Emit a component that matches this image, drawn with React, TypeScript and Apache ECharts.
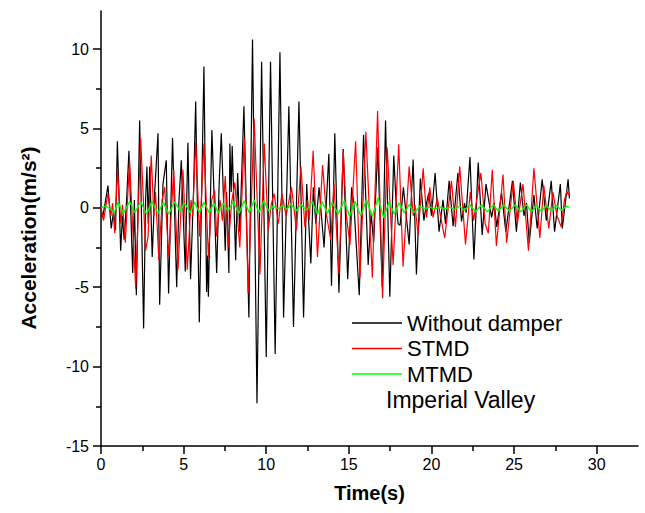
import React, { useEffect, useRef } from "react";
import * as echarts from "echarts";

const seriesNames = ["Without damper", "STMD", "MTMD"];
const xMajorTicks = [0, 5, 10, 15, 20, 25, 30];
const xMinorTicks = [2.5, 7.5, 12.5, 17.5, 22.5, 27.5];
const yMajorTicks = [-15, -10, -5, 0, 5, 10];
const yMinorTicks = [-12.5, -7.5, -2.5, 2.5, 7.5];

// [time (s), acceleration (m/s^2)]
const withoutDamper: [number, number][] = [
  [0, 0], [0.1, -0.6], [0.25, 0.3], [0.42, 1.4], [0.62, -1.3], [0.76, -0.2], [0.88, -1.4], [0.99, 4.2],
  [1.19, -2.7], [1.3, -0.5], [1.4, -2.0], [1.55, 0.5], [1.69, 3.6], [1.84, -1.5], [1.92, -4.1], [2.02, 0.5],
  [2.14, -5.5], [2.34, 5.5], [2.58, -7.6], [2.7, 0.5], [2.78, 2.6], [2.86, -1.0], [2.95, 2.6], [3.1, -3.1],
  [3.25, 1.0], [3.45, 4.7], [3.55, -6.1], [3.75, 1.5], [3.95, 3.0], [4.09, -5.4], [4.33, 4.4], [4.58, -5.0],
  [4.72, 0.5], [4.86, 3.0], [5.1, -4.0], [5.26, 4.1], [5.42, -4.5], [5.6, 1.0], [5.73, 6.7], [5.95, -7.2],
  [6.23, 8.9], [6.39, -5.3], [6.45, -3.0], [6.5, -5.6], [6.71, 4.9], [7.0, -4.1], [7.15, 1.5], [7.28, 4.7],
  [7.52, -2.7], [7.6, 1.0], [7.74, -4.1], [7.8, 4.05], [7.88, 1.0], [7.94, 3.9], [8.15, -3.3], [8.27, 2.2],
  [8.4, -1.5], [8.65, 6.4], [8.95, -6.9], [9.17, 10.6], [9.44, -12.3], [9.72, 9.2], [10.0, -9.4], [10.26, 9.2],
  [10.54, -9.2], [10.83, 9.8], [11.05, -6.9], [11.37, 6.4], [11.65, -7.5], [11.98, 6.7], [12.26, -6.9], [12.45, 1.5],
  [12.55, -0.5], [12.7, -3.5], [12.85, 1.3], [13.0, -1.0], [13.2, 1.3], [13.5, -2.5], [13.79, 3.4], [13.95, -4.9],
  [14.15, 4.7], [14.4, -5.35], [14.66, 3.7], [14.93, -4.5], [15.17, 1.3], [15.3, 0.3], [15.63, -5.5], [15.89, 4.6],
  [16.17, -3.6], [16.35, -0.3], [16.5, -2.2], [16.75, 3.8], [17.02, -5.0], [17.22, 5.5], [17.48, -5.6], [17.72, 3.3],
  [17.85, 0.5], [17.98, -1.0], [18.1, -1.1], [18.3, 1.3], [18.65, -2.3], [18.89, 3.05], [19.09, -4.2], [19.33, 1.85],
  [19.54, -0.8], [19.7, 0.3], [19.84, 0.95], [20.0, -0.5], [20.22, 2.2], [20.46, -1.5], [20.7, 0.5], [20.85, -1.0],
  [21.07, 1.7], [21.31, -1.15], [21.6, 2.2], [21.82, -0.85], [22.0, 0.3], [22.1, -0.3], [22.33, 3.2], [22.57, -3.25],
  [22.83, 2.85], [23.07, -1.7], [23.3, 1.5], [23.64, -0.6], [23.8, 0.3], [23.95, -1.2], [24.24, 0.95], [24.5, -1.5],
  [24.9, 1.7], [25.14, -1.5], [25.38, 1.6], [25.6, -0.5], [25.75, 0.3], [25.92, -2.2], [26.2, 0.8], [26.4, -1.3],
  [26.7, 1.8], [26.95, -0.8], [27.25, 1.7], [27.45, -1.5], [27.8, 1.5], [27.92, -1.3], [28.27, 1.8], [28.35, 0.6],
];

const stmd: [number, number][] = [
  [0, 0], [0.15, -0.8], [0.42, 0.9], [0.6, -0.5], [0.7, 0.3], [0.83, -1.6], [1.0, 2.4], [1.2, -1.0],
  [1.3, 0.2], [1.47, -2.2], [1.73, 3.0], [1.9, -0.8], [2.1, -5.1], [2.4, 4.4], [2.7, -2.7], [2.85, -1.8],
  [3.04, 3.3], [3.2, -0.5], [3.3, 1.0], [3.5, -3.3], [3.7, 0.5], [3.85, 1.3], [4.1, -3.1], [4.4, 2.4],
  [4.66, -3.9], [4.96, 2.4], [5.22, -3.9], [5.45, 0.5], [5.55, -0.5], [5.73, 4.2], [5.97, -1.8], [6.23, 4.05],
  [6.5, -3.1], [6.7, 0.5], [6.88, 1.1], [7.0, -1.8], [7.2, 0.5], [7.35, -0.8], [7.52, 2.0], [7.7, -2.5],
  [7.9, 0.3], [8.1, 1.6], [8.4, -2.5], [8.67, 4.4], [8.91, -5.4], [9.27, 5.6], [9.62, -4.2], [9.88, 4.05],
  [10.12, -1.4], [10.3, 0.2], [10.48, 0.9], [10.73, -1.0], [10.95, 0.9], [11.2, -0.5], [11.53, 1.3], [11.83, -1.4],
  [12.1, 2.6], [12.34, -1.2], [12.5, 0.5], [12.6, -0.8], [12.84, 3.6], [13.1, -3.1], [13.41, 2.7], [13.65, -0.5],
  [13.91, -2.0], [14.1, 1.5], [14.4, -4.2], [14.66, 3.6], [14.85, -0.5], [15.07, -2.3], [15.41, 4.2], [15.67, -4.4],
  [16.03, 4.8], [16.42, -4.4], [16.74, 6.1], [17.04, -5.7], [17.32, 3.8], [17.68, -3.6], [18.02, 4.0], [18.28, -3.7],
  [18.65, 2.6], [18.9, -0.5], [19.0, 0.2], [19.19, -1.7], [19.5, 2.5], [19.7, -0.6], [19.9, 1.3], [20.1, -0.6],
  [20.35, 0.6], [20.8, -1.9], [21.21, 1.7], [21.45, -1.2], [21.71, 2.6], [22.06, -2.3], [22.35, 1.0], [22.55, -0.8],
  [22.99, 2.2], [23.25, -1.0], [23.44, -1.6], [23.68, 2.4], [23.93, -2.4], [24.33, 2.1], [24.55, -2.2], [24.95, 1.7],
  [25.2, -1.0], [25.54, 1.5], [25.87, -2.7], [26.2, 2.5], [26.56, -1.9], [26.8, 1.4], [27.1, -1.3], [27.35, 1.0],
  [27.6, -0.5], [27.85, -1.2], [28.05, 0.5], [28.2, 1.05], [28.3, 0.8],
];

const mtmd: [number, number][] = [
  [0, 0], [0.3, 0.1], [0.6, -0.1], [0.8, -0.3], [1.03, 0.35], [1.35, -0.35], [1.73, 0.4], [2.05, -0.3],
  [2.4, 0.4], [2.75, -0.4], [3.08, 0.4], [3.45, -0.35], [3.77, 0.35], [4.1, -0.4], [4.46, 0.4], [4.78, -0.2],
  [5.06, 0.3], [5.4, -0.3], [5.67, 0.35], [5.95, -0.3], [6.23, 0.35], [6.55, -0.3], [6.83, 0.3], [7.1, -0.3],
  [7.38, 0.3], [7.7, -0.2], [8.0, 0.4], [8.35, -0.35], [8.67, 0.45], [8.97, -0.3], [9.27, 0.5], [9.55, -0.3],
  [9.86, 0.45], [10.15, -0.2], [10.42, 0.1], [10.75, -0.05], [11.0, 0.15], [11.25, -0.1], [11.49, 0.25], [11.8, -0.2],
  [12.1, 0.2], [12.45, -0.15], [12.78, 0.4], [13.1, -0.4], [13.39, 0.4], [13.7, -0.35], [13.99, 0.35], [14.35, -0.4],
  [14.72, 0.45], [15.05, -0.55], [15.36, 0.43], [15.72, -0.5], [16.07, 0.53], [16.42, -0.55], [16.77, 0.64], [17.1, -0.62],
  [17.44, 0.39], [17.75, -0.4], [18.04, 0.32], [18.35, -0.3], [18.65, 0.2], [18.95, -0.3], [19.29, 0.1], [19.6, -0.05],
  [19.9, 0.05], [20.2, -0.08], [20.5, 0.06], [20.8, -0.08], [21.1, 0.05], [21.4, -0.1], [21.71, 0.1], [22.0, -0.15],
  [22.32, 0.2], [22.67, -0.25], [23.02, 0.2], [23.38, -0.25], [23.73, 0.2], [24.05, -0.2], [24.37, 0.2], [24.72, -0.2],
  [25.08, 0.2], [25.42, -0.25], [25.75, 0.2], [26.05, -0.25], [26.35, 0.15], [26.65, -0.2], [26.96, 0.15], [27.26, -0.2],
  [27.56, 0.15], [27.86, -0.15], [28.17, 0.1], [28.35, 0.05],
];

const FONT = "'Liberation Sans', Arial, Helvetica, sans-serif";

export default function App() {
  const ref = useRef<HTMLDivElement>(null);

  useEffect(() => {
    if (!ref.current) return;
    const chart = echarts.init(ref.current, undefined, { renderer: "svg" });
    const axisColor = "#000";
    const baseX = {
      type: "value" as const,
      min: 0,
      max: 32.5,
      position: "bottom" as const,
      splitLine: { show: false },
    };
    const baseY = {
      type: "value" as const,
      min: -15,
      max: 12.4,
      position: "left" as const,
      splitLine: { show: false },
    };
    chart.setOption({
      animation: false,
      backgroundColor: "#fff",
      textStyle: { fontFamily: FONT },
      grid: { left: 101, right: 7, top: 11, bottom: 67, containLabel: false },
      legend: {
        data: seriesNames,
        orient: "vertical",
        left: 352,
        top: 312,
        padding: 0,
        icon: "rect",
        itemWidth: 50,
        itemHeight: 1.5,
        itemGap: 3.5,
        textStyle: { fontSize: 22, color: "#000", fontFamily: FONT },
      },
      graphic: [
        {
          type: "text",
          left: 386,
          top: 388,
          style: { text: "Imperial Valley", fontSize: 23, fill: "#000", fontFamily: FONT },
        },
        {
          type: "text",
          x: 28,
          y: 238,
          rotation: Math.PI / 2,
          style: {
            text: "Acceleration(m/s²)",
            fontSize: 21,
            fontWeight: "bold",
            fill: "#000",
            fontFamily: FONT,
            align: "center",
            verticalAlign: "middle",
          },
        },
      ],
      xAxis: [
        {
          ...baseX,
          name: "Time(s)",
          nameLocation: "middle",
          nameGap: 37,
          nameTextStyle: { fontSize: 20, fontWeight: "bold", color: "#000", fontFamily: FONT },
          axisLine: { show: true, onZero: false, lineStyle: { color: axisColor, width: 1.5 } },
          axisTick: { show: true, inside: false, length: 8, customValues: xMajorTicks, lineStyle: { color: axisColor, width: 1.5 } },
          axisLabel: { show: true, customValues: xMajorTicks, fontSize: 16, color: "#000", margin: 10, fontFamily: FONT },
        },
        {
          ...baseX,
          axisLine: { show: false, onZero: false },
          axisTick: { show: true, inside: false, length: 5, customValues: xMinorTicks, lineStyle: { color: axisColor, width: 1.5 } },
          axisLabel: { show: false },
        },
      ],
      yAxis: [
        {
          ...baseY,
          axisLine: { show: true, onZero: false, lineStyle: { color: axisColor, width: 1.5 } },
          axisTick: { show: true, inside: false, length: 8, customValues: yMajorTicks, lineStyle: { color: axisColor, width: 1.5 } },
          axisLabel: { show: true, customValues: yMajorTicks, fontSize: 16, color: "#000", margin: 12, fontFamily: FONT },
        },
        {
          ...baseY,
          axisLine: { show: false, onZero: false },
          axisTick: { show: true, inside: false, length: 5, customValues: yMinorTicks, lineStyle: { color: axisColor, width: 1.5 } },
          axisLabel: { show: false },
        },
      ],
      series: [
        {
          name: seriesNames[0],
          type: "line",
          data: withoutDamper,
          symbol: "none",
          showSymbol: false,
          color: "#000000",
          lineStyle: { color: "#000000", width: 1.2 },
        },
        {
          name: seriesNames[1],
          type: "line",
          data: stmd,
          symbol: "none",
          showSymbol: false,
          color: "#ff0000",
          lineStyle: { color: "#ff0000", width: 1.2 },
        },
        {
          name: seriesNames[2],
          type: "line",
          data: mtmd,
          symbol: "none",
          showSymbol: false,
          color: "#00ff00",
          lineStyle: { color: "#00ff00", width: 1.4 },
        },
      ],
    });
    return () => chart.dispose();
  }, []);

  return (
    <div
      ref={ref}
      style={{ position: "absolute", left: 0, top: 0, width: 645, height: 513, background: "#fff" }}
    />
  );
}
